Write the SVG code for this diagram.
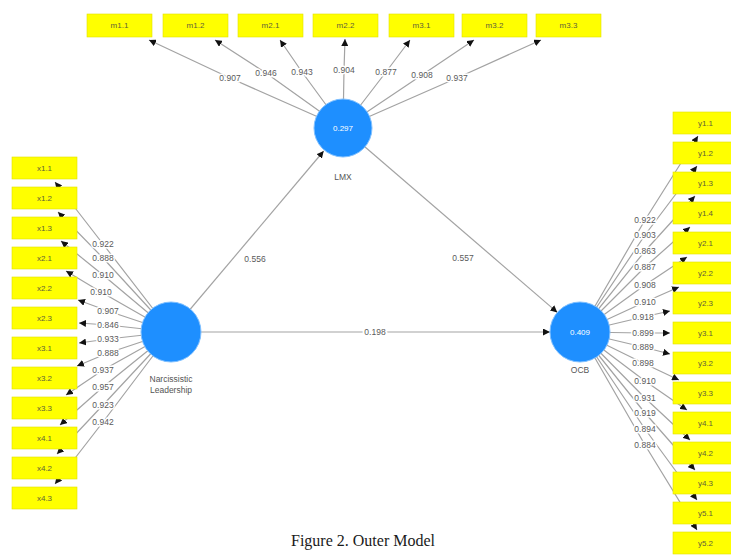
<svg xmlns="http://www.w3.org/2000/svg" width="731" height="556" viewBox="0 0 731 556">
  <style>
    .ln { fill: none; stroke: #a3a3a3; stroke-width: 1.2; }
    .box { fill: #ffff00; stroke: #e2e200; stroke-width: 0.6; }
    .bt { font-family: "Liberation Sans", Arial, sans-serif; font-size: 8px; fill: #5f5f3a; text-anchor: middle; dominant-baseline: central; }
    .lv { font-family: "Liberation Sans", Arial, sans-serif; font-size: 8.5px; fill: #5a5a5a; text-anchor: middle; dominant-baseline: central; stroke: #ffffff; stroke-width: 3; paint-order: stroke; }
    .pv { font-family: "Liberation Sans", Arial, sans-serif; font-size: 8.5px; fill: #5a5a5a; text-anchor: middle; dominant-baseline: central; }
    .lv0 { font-family: "Liberation Sans", Arial, sans-serif; font-size: 8.5px; fill: #5a5a5a; text-anchor: middle; dominant-baseline: central; stroke: #ffffff; stroke-width: 4; paint-order: stroke; }
    .lat { fill: #1e8fff; stroke: #7fc0ff; stroke-width: 1; }
    .r2 { font-family: "Liberation Sans", Arial, sans-serif; font-size: 8px; fill: #ffffff; text-anchor: middle; dominant-baseline: central; }
    .nm { font-family: "Liberation Sans", Arial, sans-serif; font-size: 8.5px; fill: #555555; text-anchor: middle; dominant-baseline: central; }
    .cap { font-family: "Liberation Serif", "Times New Roman", serif; font-size: 16px; fill: #1a1a1a; text-anchor: middle; }
  </style>
  <defs>
    <marker id="ah" viewBox="0 0 10 10" refX="10" refY="5" markerWidth="7" markerHeight="7" markerUnits="userSpaceOnUse" orient="auto">
      <path d="M0,0 L10,5 L0,10 z" fill="#111111"/>
    </marker>
  </defs>
  <rect width="731" height="556" fill="#ffffff"/>

  <!-- connectors: structural paths and outer loadings -->
  <g id="connectors">
    <!-- structural paths -->
    <line class="ln" x1="171" y1="332" x2="323.7" y2="151" marker-end="url(#ah)"/>
    <line class="ln" x1="343" y1="128" x2="557.3" y2="312.4" marker-end="url(#ah)"/>
    <line class="ln" x1="171" y1="332" x2="550" y2="332" marker-end="url(#ah)"/>
    <!-- LMX indicators -->
    <polyline class="ln" points="343,128 230,78 149,40" marker-end="url(#ah)"/>
    <polyline class="ln" points="343,128 266,73 215,40" marker-end="url(#ah)"/>
    <polyline class="ln" points="343,128 302,72 280,40" marker-end="url(#ah)"/>
    <polyline class="ln" points="343,128 344,70 345,39" marker-end="url(#ah)"/>
    <polyline class="ln" points="343,128 386,72 410,40" marker-end="url(#ah)"/>
    <polyline class="ln" points="343,128 422,75 474,40" marker-end="url(#ah)"/>
    <polyline class="ln" points="343,128 457,78 541,40" marker-end="url(#ah)"/>
    <!-- Narcissistic Leadership indicators -->
    <polyline class="ln" points="171,332 103,244 55,182" marker-end="url(#ah)"/>
    <polyline class="ln" points="171,332 103,258 58,212" marker-end="url(#ah)"/>
    <polyline class="ln" points="171,332 103,275 61,241" marker-end="url(#ah)"/>
    <polyline class="ln" points="171,332 101,292 66,271" marker-end="url(#ah)"/>
    <polyline class="ln" points="171,332 108,311 78,300" marker-end="url(#ah)"/>
    <polyline class="ln" points="171,332 108,325 79,323" marker-end="url(#ah)"/>
    <polyline class="ln" points="171,332 108,339 79,343" marker-end="url(#ah)"/>
    <polyline class="ln" points="171,332 108,353 77,366" marker-end="url(#ah)"/>
    <polyline class="ln" points="171,332 103,370 66,395" marker-end="url(#ah)"/>
    <polyline class="ln" points="171,332 103,387 60,425" marker-end="url(#ah)"/>
    <polyline class="ln" points="171,332 103,405 57,454" marker-end="url(#ah)"/>
    <polyline class="ln" points="171,332 103,422 55,484" marker-end="url(#ah)"/>
    <!-- OCB indicators -->
    <polyline class="ln" points="580,332 645,220 698,136" marker-end="url(#ah)"/>
    <polyline class="ln" points="580,332 645,235 697,166" marker-end="url(#ah)"/>
    <polyline class="ln" points="580,332 645,251 695,196" marker-end="url(#ah)"/>
    <polyline class="ln" points="580,332 645,267 690,227" marker-end="url(#ah)"/>
    <polyline class="ln" points="580,332 645,285 687,257" marker-end="url(#ah)"/>
    <polyline class="ln" points="580,332 645,302 679,287" marker-end="url(#ah)"/>
    <polyline class="ln" points="580,332 643,317 670,311" marker-end="url(#ah)"/>
    <polyline class="ln" points="580,332 643,333 670,333" marker-end="url(#ah)"/>
    <polyline class="ln" points="580,332 643,347 670,354" marker-end="url(#ah)"/>
    <polyline class="ln" points="580,332 643,363 679,380" marker-end="url(#ah)"/>
    <polyline class="ln" points="580,332 645,381 687,410" marker-end="url(#ah)"/>
    <polyline class="ln" points="580,332 645,398 690,440" marker-end="url(#ah)"/>
    <polyline class="ln" points="580,332 645,413 695,470" marker-end="url(#ah)"/>
    <polyline class="ln" points="580,332 645,429 697,500" marker-end="url(#ah)"/>
    <polyline class="ln" points="580,332 645,445 697,530" marker-end="url(#ah)"/>

    <!-- coefficient labels -->
    <text class="pv" x="255" y="259">0.556</text>
    <text class="pv" x="463" y="258">0.557</text>
    <text class="lv0" x="375" y="332">0.198</text>

    <text class="lv" x="230" y="78">0.907</text>
    <text class="lv" x="266" y="73">0.946</text>
    <text class="lv" x="302" y="72">0.943</text>
    <text class="lv" x="344" y="70">0.904</text>
    <text class="lv" x="386" y="72">0.877</text>
    <text class="lv" x="422" y="75">0.908</text>
    <text class="lv" x="457" y="78">0.937</text>

    <text class="lv" x="103" y="244">0.922</text>
    <text class="lv" x="103" y="258">0.888</text>
    <text class="lv" x="103" y="275">0.910</text>
    <text class="lv" x="101" y="292">0.910</text>
    <text class="lv" x="108" y="311">0.907</text>
    <text class="lv" x="108" y="325">0.846</text>
    <text class="lv" x="108" y="339">0.933</text>
    <text class="lv" x="108" y="353">0.888</text>
    <text class="lv" x="103" y="370">0.937</text>
    <text class="lv" x="103" y="387">0.957</text>
    <text class="lv" x="103" y="405">0.923</text>
    <text class="lv" x="103" y="422">0.942</text>

    <text class="lv" x="645" y="220">0.922</text>
    <text class="lv" x="645" y="235">0.903</text>
    <text class="lv" x="645" y="251">0.863</text>
    <text class="lv" x="645" y="267">0.887</text>
    <text class="lv" x="645" y="285">0.908</text>
    <text class="lv" x="645" y="302">0.910</text>
    <text class="lv" x="643" y="317">0.918</text>
    <text class="lv" x="643" y="333">0.899</text>
    <text class="lv" x="643" y="347">0.889</text>
    <text class="lv" x="643" y="363">0.898</text>
    <text class="lv" x="645" y="381">0.910</text>
    <text class="lv" x="645" y="398">0.931</text>
    <text class="lv" x="645" y="413">0.919</text>
    <text class="lv" x="645" y="429">0.894</text>
    <text class="lv" x="645" y="445">0.884</text>
  </g>

  <!-- latent variables -->
  <g id="lmx">
    <circle class="lat" cx="343" cy="128" r="29"/>
    <text class="r2" x="343" y="128">0.297</text>
    <text class="nm" x="343" y="177">LMX</text>
  </g>
  <g id="narcissistic-leadership">
    <circle class="lat" cx="171" cy="332" r="30"/>
    <text class="nm" x="171" y="379">Narcissistic</text>
    <text class="nm" x="171" y="390">Leadership</text>
  </g>
  <g id="ocb">
    <circle class="lat" cx="580" cy="332" r="30"/>
    <text class="r2" x="580" y="332">0.409</text>
    <text class="nm" x="580" y="370">OCB</text>
  </g>

  <!-- LMX indicators -->
  <g id="m1.1"><rect class="box" x="87" y="14" width="65" height="23"/><text class="bt" x="119.5" y="25.5">m1.1</text></g>
  <g id="m1.2"><rect class="box" x="163" y="14" width="65" height="23"/><text class="bt" x="195.5" y="25.5">m1.2</text></g>
  <g id="m2.1"><rect class="box" x="238" y="14" width="65" height="23"/><text class="bt" x="270.5" y="25.5">m2.1</text></g>
  <g id="m2.2"><rect class="box" x="313" y="14" width="65" height="23"/><text class="bt" x="345.5" y="25.5">m2.2</text></g>
  <g id="m3.1"><rect class="box" x="389" y="14" width="65" height="23"/><text class="bt" x="421.5" y="25.5">m3.1</text></g>
  <g id="m3.2"><rect class="box" x="462" y="14" width="65" height="23"/><text class="bt" x="494.5" y="25.5">m3.2</text></g>
  <g id="m3.3"><rect class="box" x="536" y="14" width="65" height="23"/><text class="bt" x="568.5" y="25.5">m3.3</text></g>

  <!-- Narcissistic Leadership indicators -->
  <g id="x1.1"><rect class="box" x="12" y="157" width="65" height="22"/><text class="bt" x="44.5" y="168">x1.1</text></g>
  <g id="x1.2"><rect class="box" x="12" y="187" width="65" height="22"/><text class="bt" x="44.5" y="198">x1.2</text></g>
  <g id="x1.3"><rect class="box" x="12" y="217" width="65" height="22"/><text class="bt" x="44.5" y="228">x1.3</text></g>
  <g id="x2.1"><rect class="box" x="12" y="247" width="65" height="22"/><text class="bt" x="44.5" y="258">x2.1</text></g>
  <g id="x2.2"><rect class="box" x="12" y="277" width="65" height="22"/><text class="bt" x="44.5" y="288">x2.2</text></g>
  <g id="x2.3"><rect class="box" x="12" y="307" width="65" height="22"/><text class="bt" x="44.5" y="318">x2.3</text></g>
  <g id="x3.1"><rect class="box" x="12" y="337" width="65" height="22"/><text class="bt" x="44.5" y="348">x3.1</text></g>
  <g id="x3.2"><rect class="box" x="12" y="367" width="65" height="22"/><text class="bt" x="44.5" y="378">x3.2</text></g>
  <g id="x3.3"><rect class="box" x="12" y="397" width="65" height="22"/><text class="bt" x="44.5" y="408">x3.3</text></g>
  <g id="x4.1"><rect class="box" x="12" y="427" width="65" height="22"/><text class="bt" x="44.5" y="438">x4.1</text></g>
  <g id="x4.2"><rect class="box" x="12" y="457" width="65" height="22"/><text class="bt" x="44.5" y="468">x4.2</text></g>
  <g id="x4.3"><rect class="box" x="12" y="487" width="65" height="22"/><text class="bt" x="44.5" y="498">x4.3</text></g>

  <!-- OCB indicators -->
  <g id="y1.1"><rect class="box" x="673" y="112" width="65" height="22"/><text class="bt" x="705.5" y="123">y1.1</text></g>
  <g id="y1.2"><rect class="box" x="673" y="142" width="65" height="22"/><text class="bt" x="705.5" y="153">y1.2</text></g>
  <g id="y1.3"><rect class="box" x="673" y="172" width="65" height="22"/><text class="bt" x="705.5" y="183">y1.3</text></g>
  <g id="y1.4"><rect class="box" x="673" y="202" width="65" height="22"/><text class="bt" x="705.5" y="213">y1.4</text></g>
  <g id="y2.1"><rect class="box" x="673" y="232" width="65" height="22"/><text class="bt" x="705.5" y="243">y2.1</text></g>
  <g id="y2.2"><rect class="box" x="673" y="262" width="65" height="22"/><text class="bt" x="705.5" y="273">y2.2</text></g>
  <g id="y2.3"><rect class="box" x="673" y="292" width="65" height="22"/><text class="bt" x="705.5" y="303">y2.3</text></g>
  <g id="y3.1"><rect class="box" x="673" y="322" width="65" height="22"/><text class="bt" x="705.5" y="333">y3.1</text></g>
  <g id="y3.2"><rect class="box" x="673" y="352" width="65" height="22"/><text class="bt" x="705.5" y="363">y3.2</text></g>
  <g id="y3.3"><rect class="box" x="673" y="382" width="65" height="22"/><text class="bt" x="705.5" y="393">y3.3</text></g>
  <g id="y4.1"><rect class="box" x="673" y="412" width="65" height="22"/><text class="bt" x="705.5" y="423">y4.1</text></g>
  <g id="y4.2"><rect class="box" x="673" y="442" width="65" height="22"/><text class="bt" x="705.5" y="453">y4.2</text></g>
  <g id="y4.3"><rect class="box" x="673" y="472" width="65" height="22"/><text class="bt" x="705.5" y="483">y4.3</text></g>
  <g id="y5.1"><rect class="box" x="673" y="502" width="65" height="22"/><text class="bt" x="705.5" y="513">y5.1</text></g>
  <g id="y5.2"><rect class="box" x="673" y="532" width="65" height="22"/><text class="bt" x="705.5" y="543">y5.2</text></g>

  <text class="cap" x="363" y="546">Figure 2. Outer Model</text>
</svg>
